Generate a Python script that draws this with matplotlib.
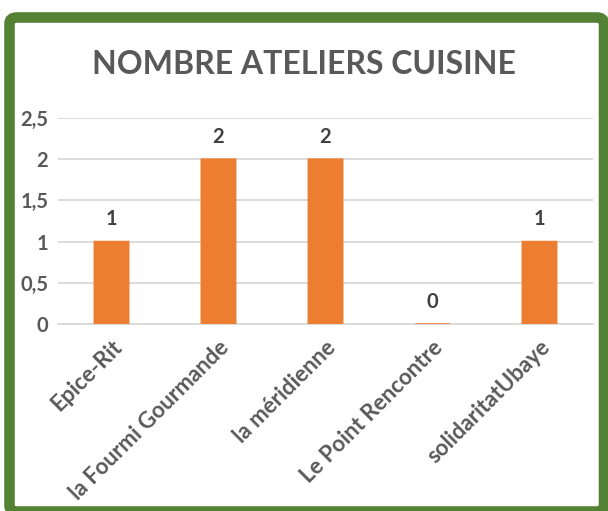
import matplotlib
matplotlib.use('Agg')
import matplotlib.pyplot as plt
from matplotlib.patches import FancyBboxPatch

# data
categories = ['Epice-Rit', 'la Fourmi Gourmande', 'la méridienne', 'Le Point Rencontre', 'solidaritatUbaye']
values = [1, 2, 2, 0, 1]
yticks = [0, 0.5, 1, 1.5, 2, 2.5]
ytick_labels = ['0', '0,5', '1', '1,5', '2', '2,5']

W, H = 608, 511
fig = plt.figure(figsize=(W/100, H/100), dpi=100)
fig.patch.set_facecolor('white')

def fx(x): return x / W
def fy(y): return 1 - y / H

# green frame
frame = FancyBboxPatch((fx(9.5), fy(511.5)), fx(594.5), 494/H,
                       boxstyle='round,pad=0,rounding_size=0.012',
                       transform=fig.transFigure, facecolor='none',
                       edgecolor='#548235', linewidth=7.6, zorder=5)
fig.patches.append(frame)

ax = fig.add_axes([fx(58), fy(324), fx(593-58), (324-118)/H])
ax.set_facecolor('none')
x = range(len(categories))
bars = ax.bar(x, values, width=0.32, color='#ED7D31', edgecolor='#ED7D31',
              linewidth=1.2, zorder=3)
for b in bars:
    b.set_snap(False)

ax.set_xlim(-0.5, 4.5)
ax.set_ylim(0, 2.5)
ax.set_yticks(yticks)
ax.set_yticklabels(ytick_labels)
ax.yaxis.grid(True, color='#D9D9D9', linewidth=1.3, zorder=0)
ax.set_axisbelow(True)
for s in ['top', 'right', 'left']:
    ax.spines[s].set_visible(False)
ax.spines['bottom'].set_color('#D9D9D9')
ax.spines['bottom'].set_linewidth(1.3)
ax.spines['bottom'].set_zorder(1)
ax.tick_params(axis='both', length=0, labelcolor='#595959')
ax.tick_params(axis='y', pad=7)
ax.tick_params(axis='x', pad=9)
ax.set_xticks(list(x))
ax.set_xticklabels(categories, rotation=45, ha='right', rotation_mode='anchor')
for lab in ax.get_xticklabels():
    lab.set_fontfamily('Lato')
    lab.set_fontweight('bold')
    lab.set_fontsize(16)
for lab in ax.get_yticklabels():
    lab.set_fontfamily('Lato')
    lab.set_fontweight('bold')
    lab.set_fontsize(14.5)

for xi, v in zip(x, values):
    ax.text(xi, v + 0.15, str(v), ha='center', va='bottom', fontsize=14.5,
            fontweight='bold', family='Lato', color='#404040')

fig.text(0.5, fy(65), 'NOMBRE ATELIERS CUISINE', ha='center', va='center',
         fontsize=23, fontweight='bold', family='Lato', color='#595959')

fig.savefig('out.png', dpi=100)
